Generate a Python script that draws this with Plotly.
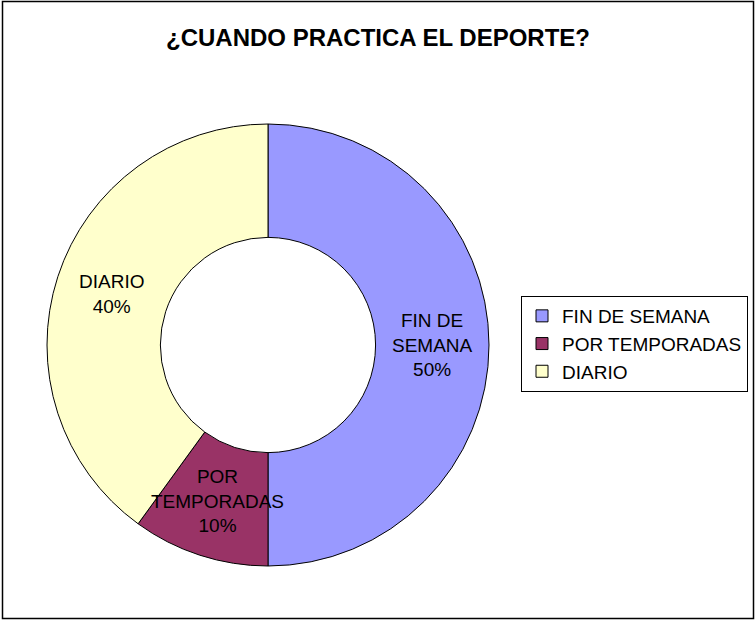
import math
import plotly.graph_objects as go

# Data
categories = ["FIN DE SEMANA", "POR TEMPORADAS", "DIARIO"]
values = [50, 10, 40]
label_text = ["FIN DE<br>SEMANA", "POR<br>TEMPORADAS", "DIARIO"]
colors = ["#9999FF", "#993366", "#FFFFCC"]

W, H = 756, 620
# pie geometry (pixels)
cx, cy, R = 268, 345, 221
hole = 0.487
FONT = "Liberation Sans, Arial, sans-serif"

fig = go.Figure()
fig.add_trace(go.Pie(
    labels=categories,
    values=values,
    hole=hole,
    sort=False,
    direction="clockwise",
    rotation=0,
    textinfo="none",
    hoverinfo="label+percent",
    marker=dict(colors=colors, line=dict(color="black", width=1)),
    domain=dict(x=[(cx - R) / W, (cx + R) / W],
                y=[1 - (cy + R) / H, 1 - (cy - R) / H]),
    showlegend=True,
))

# Labels placed at middle of the ring, computed from data
total = sum(values)
rmid = (R + hole * R) / 2
start = 0.0
annotations = []
for txt, v in zip(label_text, values):
    mid = start + v / total * 360 / 2
    start += v / total * 360
    a = math.radians(mid)
    px = cx + rmid * math.sin(a)
    py = cy - rmid * math.cos(a)
    pct = round(v / total * 100)
    annotations.append(dict(
        x=px / W, y=1 - py / H, xref="paper", yref="paper",
        text=f"{txt}<br>{pct}%", showarrow=False,
        font=dict(family=FONT, size=19, color="black"),
        xanchor="center", yanchor="middle", align="center",
    ))

fig.update_layout(
    width=W, height=H,
    margin=dict(l=0, r=0, t=0, b=0),
    paper_bgcolor="white",
    plot_bgcolor="white",
    title=dict(text="<b>¿CUANDO PRACTICA EL DEPORTE?</b>",
               x=0.5, xanchor="center", y=1 - 38 / H, yanchor="middle",
               font=dict(family=FONT, size=24, color="black")),
    legend=dict(
        x=748 / W, y=1 - 296 / H, xanchor="right", yanchor="top",
        bordercolor="black", borderwidth=1, bgcolor="white",
        font=dict(family=FONT, size=19, color="black"),
        itemclick=False,
    ),
    annotations=annotations,
    shapes=[dict(type="rect", xref="paper", yref="paper",
                 x0=2.5 / W, x1=753.5 / W, y0=1 - 618.5 / H, y1=1 - 1.5 / H,
                 line=dict(color="black", width=1.5))],
)

fig.write_html("out.html",
               config={"displayModeBar": False},
               post_script="document.body.style.margin='0';document.body.style.overflow='hidden';")
